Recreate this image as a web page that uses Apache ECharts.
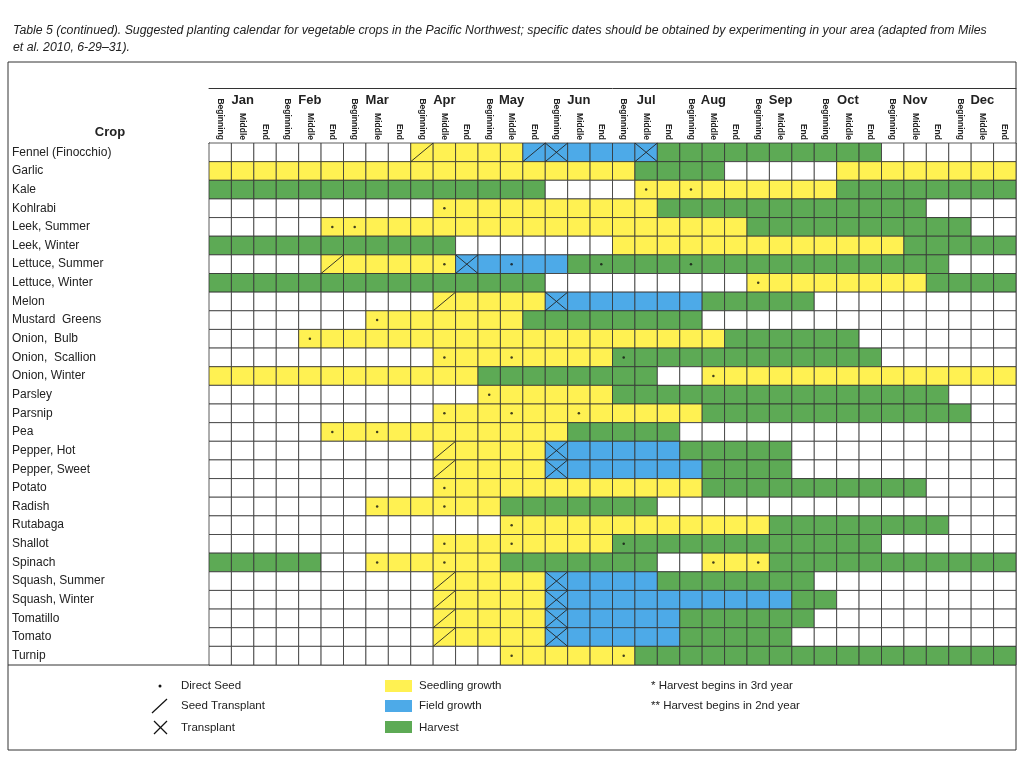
<!DOCTYPE html>
<html>
<head>
<meta charset="utf-8">
<script src="https://cdn.jsdelivr.net/npm/echarts@6/dist/echarts.min.js"></script>
<style>html,body{margin:0;background:#fff}#c{width:1024px;height:757px}</style>
</head>
<body>
<div id="c"></div>
<script>
// table data
const months = ['Jan', 'Feb', 'Mar', 'Apr', 'May', 'Jun', 'Jul', 'Aug', 'Sep', 'Oct', 'Nov', 'Dec'];
const parts = ['Beginning', 'Middle', 'End'];
const crops = ['Fennel (Finocchio)', 'Garlic', 'Kale', 'Kohlrabi', 'Leek, Summer', 'Leek, Winter',
  'Lettuce, Summer', 'Lettuce, Winter', 'Melon', 'Mustard  Greens', 'Onion,  Bulb', 'Onion,  Scallion',
  'Onion, Winter', 'Parsley', 'Parsnip', 'Pea', 'Pepper, Hot', 'Pepper, Sweet', 'Potato', 'Radish',
  'Rutabaga', 'Shallot', 'Spinach', 'Squash, Summer', 'Squash, Winter', 'Tomatillo', 'Tomato', 'Turnip'];
// . none, Y seedling growth, B field growth, G harvest (36 thirds of month)
const stages = [
  '.........YYYYYBBBBBBGGGGGGGGGG......',
  'YYYYYYYYYYYYYYYYYYYGGGG.....YYYYYYYY',
  'GGGGGGGGGGGGGGG....YYYYYYYYYGGGGGGGG',
  '..........YYYYYYYYYYGGGGGGGGGGGG....',
  '.....YYYYYYYYYYYYYYYYYYYGGGGGGGGGG..',
  'GGGGGGGGGGG.......YYYYYYYYYYYYYGGGGG',
  '.....YYYYYYBBBBBGGGGGGGGGGGGGGGGG...',
  'GGGGGGGGGGGGGGG.........YYYYYYYYGGGG',
  '..........YYYYYBBBBBBBGGGGG.........',
  '.......YYYYYYYGGGGGGGG..............',
  '....YYYYYYYYYYYYYYYYYYYGGGGGG.......',
  '..........YYYYYYYYGGGGGGGGGGGG......',
  'YYYYYYYYYYYYGGGGGGGG..YYYYYYYYYYYYYY',
  '............YYYYYYGGGGGGGGGGGGGGG...',
  '..........YYYYYYYYYYYYGGGGGGGGGGGG..',
  '.....YYYYYYYYYYYGGGGG...............',
  '..........YYYYYBBBBBBGGGGG..........',
  '..........YYYYYBBBBBBBGGGG..........',
  '..........YYYYYYYYYYYYGGGGGGGGGG....',
  '.......YYYYYYGGGGGGG................',
  '.............YYYYYYYYYYYYGGGGGGGG...',
  '..........YYYYYYYYGGGGGGGGGGGG......',
  'GGGGG..YYYYYYGGGGGGG..YYYGGGGGGGGGGG',
  '..........YYYYYBBBBBGGGGGGG.........',
  '..........YYYYYBBBBBBBBBBBGG........',
  '..........YYYYYBBBBBBGGGGGG.........',
  '..........YYYYYBBBBBBGGGGG..........',
  '.............YYYYYYGGGGGGGGGGGGGGGGG'
];
// [row, column]
const directSeed = [[2,19],[2,21],[3,10],[4,5],[4,6],[6,10],[6,13],[6,17],[6,21],[7,24],[9,7],[10,4],
  [11,10],[11,13],[11,18],[12,22],[13,12],[14,10],[14,13],[14,16],[15,5],[15,7],[18,10],[19,7],[19,10],
  [20,13],[21,10],[21,13],[21,18],[22,7],[22,10],[22,22],[22,24],[27,13],[27,18]];
const seedTransplant = [[0,9],[0,14],[6,5],[8,10],[16,10],[17,10],[23,10],[24,10],[25,10],[26,10]];
const transplant = [[0,15],[0,19],[6,11],[8,15],[16,15],[17,15],[23,15],[24,15],[25,15],[26,15]];

const colors = { Y: '#FFF152', B: '#4DAAE8', G: '#5DAA55', '.': '#ffffff' };
const cols = [];
months.forEach(m => parts.forEach(p => cols.push(m + ' ' + p)));

const cells = [];
stages.forEach((s, r) => s.split('').forEach((ch, c) => cells.push([c, r, ch])));

const chart = echarts.init(document.getElementById('c'));
const font = 'Liberation Sans, Arial, sans-serif';

function markSeries(data, kind) {
  return {
    type: 'custom', data: data.map(d => [d[1], d[0]]), z: 5,
    renderItem: function (params, api) {
      const p = api.coord([api.value(0), api.value(1)]);
      const sz = api.size([1, 1]);
      const x0 = p[0] - sz[0] / 2, x1 = p[0] + sz[0] / 2;
      const y0 = p[1] - sz[1] / 2, y1 = p[1] + sz[1] / 2;
      const st = { stroke: '#222', lineWidth: 0.9 };
      const lines = [{ type: 'line', shape: { x1: x0, y1: y1, x2: x1, y2: y0 }, style: st }];
      if (kind === 'x') lines.push({ type: 'line', shape: { x1: x0, y1: y0, x2: x1, y2: y1 }, style: st });
      return { type: 'group', children: lines };
    }
  };
}

const legendY = [686, 706, 728];
const option = {
  animation: false,
  textStyle: { fontFamily: font },
  title: {
    text: 'Table 5 (continued). Suggested planting calendar for vegetable crops in the Pacific Northwest; specific dates should be obtained by experimenting in your area (adapted from Miles\net al. 2010, 6-29–31).',
    left: 8, top: 17,
    textStyle: { fontSize: 12.3, fontStyle: 'italic', fontWeight: 'normal', color: '#222', lineHeight: 17, fontFamily: font }
  },
  grid: { left: 209, right: 8, top: 143, bottom: 92 },
  xAxis: [{
    type: 'category', data: cols, position: 'top',
    axisLine: { lineStyle: { color: '#333', width: 1 } },
    axisTick: { length: 55, lineStyle: { color: '#555' } },
    axisLabel: { rotate: 90, fontSize: 8.5, fontWeight: 'bold', color: '#222', margin: 3,
      formatter: v => v.split(' ')[1] }
  }, {
    type: 'category', data: months, position: 'top', offset: 55,
    axisLine: { lineStyle: { color: '#333', width: 1 } },
    axisTick: { length: 26, lineStyle: { color: '#333' } },
    axisLabel: { fontSize: 13, fontWeight: 'bold', color: '#222', margin: -19 }
  }],
  yAxis: {
    type: 'category', data: crops, inverse: true,
    axisLine: { lineStyle: { color: '#333' } },
    axisTick: { length: 201, lineStyle: { color: '#555' } },
    axisLabel: { align: 'left', margin: 197, fontSize: 12, color: '#222' }
  },
  series: [{
    type: 'custom', data: cells,
    renderItem: function (params, api) {
      const p = api.coord([api.value(0), api.value(1)]);
      const sz = api.size([1, 1]);
      return {
        type: 'rect',
        shape: { x: p[0] - sz[0] / 2, y: p[1] - sz[1] / 2, width: sz[0], height: sz[1] },
        style: { fill: colors[cells[params.dataIndex][2]], stroke: '#333', lineWidth: 0.8 }
      };
    }
  }, {
    type: 'scatter', data: directSeed.map(d => [d[1], d[0]]), symbolSize: 2.5, z: 5,
    itemStyle: { color: '#111' }
  }, markSeries(seedTransplant, 'slash'), markSeries(transplant, 'x')],
  graphic: [
    { type: 'rect', shape: { x: 8, y: 62, width: 1008, height: 688 }, style: { fill: 'none', stroke: '#333', lineWidth: 1 } },
    { type: 'line', shape: { x1: 8, y1: 665, x2: 1016, y2: 665 }, style: { stroke: '#333' } },
    { type: 'text', x: 110, y: 132, style: { text: 'Crop', fontSize: 13, fontWeight: 'bold', fill: '#222', align: 'center', verticalAlign: 'middle', fontFamily: font } },
    { type: 'circle', shape: { cx: 160, cy: legendY[0], r: 1.5 }, style: { fill: '#111' } },
    { type: 'line', shape: { x1: 152, y1: 713, x2: 167, y2: 699 }, style: { stroke: '#111', lineWidth: 1.2 } },
    { type: 'line', shape: { x1: 154, y1: 721, x2: 167, y2: 734 }, style: { stroke: '#111', lineWidth: 1.2 } },
    { type: 'line', shape: { x1: 154, y1: 734, x2: 167, y2: 721 }, style: { stroke: '#111', lineWidth: 1.2 } },
    { type: 'rect', shape: { x: 385, y: 680, width: 27, height: 12 }, style: { fill: colors.Y } },
    { type: 'rect', shape: { x: 385, y: 700, width: 27, height: 12 }, style: { fill: colors.B } },
    { type: 'rect', shape: { x: 385, y: 721, width: 27, height: 12 }, style: { fill: colors.G } }
  ].concat(
    ['Direct Seed', 'Seed Transplant', 'Transplant'].map((t, i) => ({ type: 'text', x: 181, y: legendY[i], style: { text: t, fontSize: 11.5, fill: '#222', verticalAlign: 'middle', fontFamily: font } })),
    ['Seedling growth', 'Field growth', 'Harvest'].map((t, i) => ({ type: 'text', x: 419, y: legendY[i], style: { text: t, fontSize: 11.5, fill: '#222', verticalAlign: 'middle', fontFamily: font } })),
    ['* Harvest begins in 3rd year', '** Harvest begins in 2nd year'].map((t, i) => ({ type: 'text', x: 651, y: legendY[i], style: { text: t, fontSize: 11.5, fill: '#222', verticalAlign: 'middle', fontFamily: font } }))
  )
};
chart.setOption(option);
</script>
</body>
</html>
